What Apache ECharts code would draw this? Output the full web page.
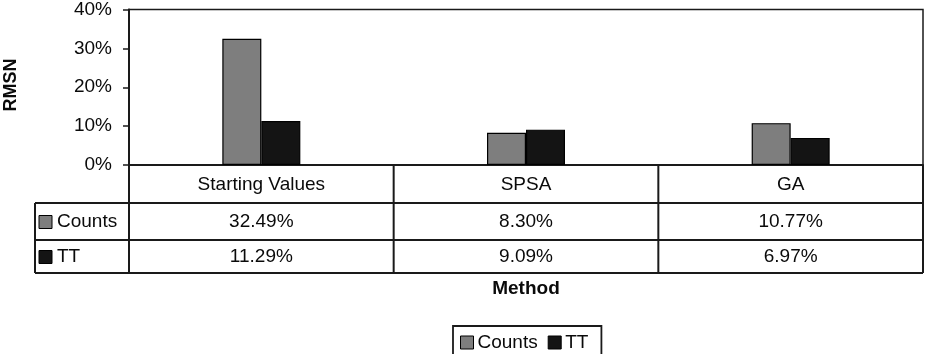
<!DOCTYPE html>
<html>
<head>
<meta charset="utf-8">
<script src="https://cdn.jsdelivr.net/npm/echarts@6/dist/echarts.min.js"></script>
<style>
html,body{margin:0;padding:0;background:#fff;}
#c{width:939px;height:354px;}
</style>
</head>
<body>
<div id="c"></div>
<script>
var categories = ['Starting Values', 'SPSA', 'GA'];
var seriesNames = ['Counts', 'TT'];
var countsValues = [32.49, 8.30, 10.77];
var ttValues = [11.29, 9.09, 6.97];
var yTicks = [0, 10, 20, 30, 40];
var yAxisName = 'RMSN';
var xAxisName = 'Method';

var FONT = "'Liberation Sans', Arial, sans-serif";
var colors = ['#7e7e7e', '#141414'];
var lineCol = '#1a1a1a';
var textCol = '#0a0a0a';

var chart = echarts.init(document.getElementById('c'));
var option = {
  animation: false,
  backgroundColor: '#fff',
  textStyle: { fontFamily: FONT },
  grid: {
    left: 129, right: 16, top: 7, bottom: 189,
    show: true, borderColor: lineCol, borderWidth: 1.5, backgroundColor: 'transparent'
  },
  legend: {
    data: seriesNames,
    left: 453, top: 326,
    orient: 'horizontal',
    icon: 'rect',
    itemWidth: 13, itemHeight: 13, itemGap: 10,
    padding: [7, 13, 8, 7],
    borderColor: lineCol, borderWidth: 1.8,
    textStyle: { fontFamily: FONT, fontSize: 19, color: textCol, padding: [0, 0, 0, -1] },
    itemStyle: { borderColor: '#000', borderWidth: 1 }
  },
  xAxis: {
    type: 'category',
    data: categories,
    axisLine: { show: true, lineStyle: { color: lineCol, width: 2 } },
    axisTick: { show: false },
    axisLabel: { show: false }
  },
  yAxis: {
    type: 'value',
    min: yTicks[0], max: yTicks[yTicks.length - 1], interval: 10,
    axisLine: { show: true, lineStyle: { color: lineCol, width: 2 } },
    axisTick: { show: true, length: 6, inside: false, lineStyle: { color: lineCol, width: 1.5 } },
    splitLine: { show: false },
    axisLabel: { formatter: '{value}%', fontFamily: FONT, fontSize: 19, color: textCol, margin: 17 }
  },
  series: [
    {
      name: seriesNames[0], type: 'bar', data: countsValues,
      barWidth: 39, barGap: '0%',
      itemStyle: { color: colors[0], borderColor: '#000', borderWidth: 1.2 }
    },
    {
      name: seriesNames[1], type: 'bar', data: ttValues,
      barWidth: 39, barGap: '0%',
      itemStyle: { color: colors[1], borderColor: '#000', borderWidth: 1.2 }
    }
  ]
};
chart.setOption(option);

// Build the data table beneath the plot from the axis scale
var c0 = chart.convertToPixel({ xAxisIndex: 0 }, categories[0]);
var c1 = chart.convertToPixel({ xAxisIndex: 0 }, categories[1]);
var band = c1 - c0;
var gLeft = c0 - band / 2;
var gRight = gLeft + band * categories.length;
var yHeaderTop = chart.convertToPixel({ yAxisIndex: 0 }, 0);
var yRow1 = yHeaderTop + 38;
var yRow2 = yRow1 + 37;
var yBottom = yRow2 + 33;
var keyLeft = 35;

var g = [];
function hline(x1, x2, y) {
  g.push({ type: 'line', shape: { x1: x1, y1: y, x2: x2, y2: y }, style: { stroke: lineCol, lineWidth: 2 }, silent: true });
}
function vline(x, y1, y2) {
  g.push({ type: 'line', shape: { x1: x, y1: y1, x2: x, y2: y2 }, style: { stroke: lineCol, lineWidth: 2 }, silent: true });
}
function txt(x, y, s, align, extra) {
  var st = { text: s, x: x, y: y, align: align || 'center', verticalAlign: 'middle', fontFamily: FONT, fontSize: 19, fill: textCol };
  if (extra) for (var k in extra) st[k] = extra[k];
  g.push({ type: 'text', style: st, silent: true });
}

hline(keyLeft, gRight, yRow1);
hline(keyLeft, gRight, yRow2);
hline(keyLeft, gRight, yBottom);
vline(keyLeft, yRow1, yBottom);
for (var i = 0; i <= categories.length; i++) {
  vline(gLeft + band * i, yHeaderTop, yBottom);
}
var rowsVals = [countsValues, ttValues];
var rowCenters = [(yRow1 + yRow2) / 2, (yRow2 + yBottom) / 2];
for (var i = 0; i < categories.length; i++) {
  var cx = chart.convertToPixel({ xAxisIndex: 0 }, categories[i]);
  txt(cx, (yHeaderTop + yRow1) / 2 + 1, categories[i]);
  for (var r = 0; r < rowsVals.length; r++) {
    txt(cx, rowCenters[r], rowsVals[r][i].toFixed(2) + '%');
  }
}
for (var r = 0; r < seriesNames.length; r++) {
  g.push({ type: 'rect', shape: { x: keyLeft + 4, y: rowCenters[r] - 6, width: 13, height: 13 },
    style: { fill: colors[r], stroke: '#000', lineWidth: 1 }, silent: true });
  txt(keyLeft + 22, rowCenters[r], seriesNames[r], 'left');
}
// axis titles
g.push({ type: 'text', rotation: Math.PI / 2, x: 11, y: 85,
  style: { text: yAxisName, align: 'center', verticalAlign: 'middle', fontFamily: FONT, fontSize: 18, fontWeight: 'bold', fill: textCol }, silent: true });
txt((gLeft + gRight) / 2, 289, xAxisName, 'center', { fontWeight: 'bold', fontSize: 19 });

chart.setOption({ graphic: g });
</script>
</body>
</html>
